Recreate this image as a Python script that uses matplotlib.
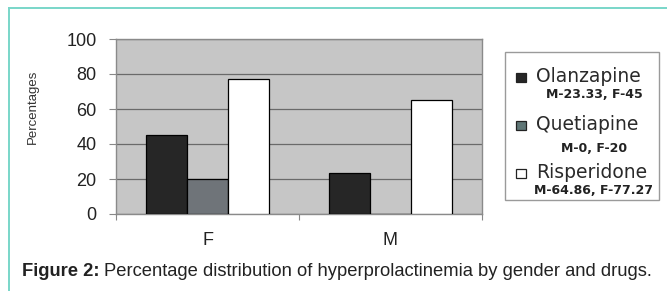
import matplotlib.pyplot as plt
import numpy as np
from matplotlib.patches import Rectangle
from matplotlib.lines import Line2D

# Data
genders = ['F', 'M']
drugs = ['Olanzapine', 'Quetiapine', 'Risperidone']
olanzapine = [45, 23.33]
quetiapine = [20, 0]
risperidone = [77.27, 64.86]
sublabels = ['M-23.33, F-45', 'M-0, F-20', 'M-64.86, F-77.27']

colors = ['#262626', '#6f7479', '#ffffff']
legend_colors = ['#262626', '#5f7676', '#ffffff']

W, H = 667, 291
fig = plt.figure(figsize=(W / 100, H / 100), dpi=100)
fig.patch.set_facecolor('white')
arial = 'Liberation Sans'

# axes placed in pixel coordinates of the reference
ax = fig.add_axes([116 / W, 1 - 214 / H, (482 - 116) / W, (214 - 39) / H])
ax.set_facecolor('#c6c6c6')

x = np.arange(len(genders)) + 0.5
width = 0.225
for i, vals in enumerate([olanzapine, quetiapine, risperidone]):
    offset = (i - 1) * width
    ax.bar(x + offset, vals, width, color=colors[i], edgecolor='black',
           linewidth=0.9, zorder=3)

ax.set_xlim(0, 2)
ax.set_ylim(0, 100)
ax.set_yticks([0, 20, 40, 60, 80, 100])
ax.yaxis.grid(True, color='#6a6a6a', linewidth=0.9, zorder=1)
ax.set_axisbelow(True)
ax.set_xticks([0, 1, 2])
ax.set_xticklabels([])
ax.set_xticks(x, minor=True)
ax.set_xticklabels(genders, minor=True, fontsize=13, family=arial, color='#222222')
ax.tick_params(axis='x', which='minor', length=0, pad=13)
ax.tick_params(axis='x', which='major', length=4, color='#888888')
ax.tick_params(axis='y', length=5, color='#888888', labelsize=13,
               labelcolor='#222222', pad=9)
for lab in ax.get_yticklabels():
    lab.set_family(arial)
for s in ax.spines.values():
    s.set_color('#8a8a8a')
    s.set_linewidth(1.0)

fig.text(33 / W, 1 - 107 / H, 'Percentages', rotation=90, ha='center',
         va='center', fontsize=9.5, family=arial, color='#333333')

# legend box drawn by hand
fig.add_artist(Rectangle((505 / W, 1 - 200 / H), (659 - 505) / W, (200 - 52) / H,
                         transform=fig.transFigure, facecolor='white',
                         edgecolor='#9a9a9a', linewidth=1.0))
rows_y = [77, 125, 173]
sub_y = [95, 148, 190]
for name, sub, c, ry, sy in zip(drugs, sublabels, legend_colors, rows_y, sub_y):
    fig.add_artist(Rectangle((516 / W, 1 - (ry + 4.5) / H), 10 / W, 9 / H,
                             transform=fig.transFigure, facecolor=c,
                             edgecolor='#222222', linewidth=0.9))
    fig.text(536 / W, 1 - ry / H, name, ha='left', va='center',
             fontsize=13.5, color='#2a2a2a')
    fig.text(594 / W, 1 - sy / H, sub, ha='center', va='center',
             fontsize=9, fontweight='bold', color='#222222')

# teal frame
tc = '#79d6c9'
fig.add_artist(Line2D([9 / W, 9 / W], [0, 1 - 8 / H], transform=fig.transFigure,
                      color=tc, linewidth=1.4))
fig.add_artist(Line2D([9 / W, 1], [1 - 8 / H, 1 - 8 / H], transform=fig.transFigure,
                      color=tc, linewidth=1.4))

# caption, sized so it spans the same width as in the reference
cap_y = 1 - 272 / H
t1 = fig.text(22 / W, cap_y, 'Figure 2:', ha='left', va='center',
              fontsize=13, fontweight='bold', family=arial, color='#222222')
t2 = fig.text(0, cap_y, 'Percentage distribution of hyperprolactinemia by gender and drugs.',
              ha='left', va='center', fontsize=13, family=arial, color='#222222')
fig.canvas.draw()
r = fig.canvas.get_renderer()
total = t1.get_window_extent(r).width + 5 + t2.get_window_extent(r).width
fs = 13 * 628 / total
t1.set_fontsize(fs)
t2.set_fontsize(fs)
fig.canvas.draw()
bb = t1.get_window_extent(r)
t2.set_x((bb.x1 + 4) / W)

plt.savefig('out.png', dpi=100)
